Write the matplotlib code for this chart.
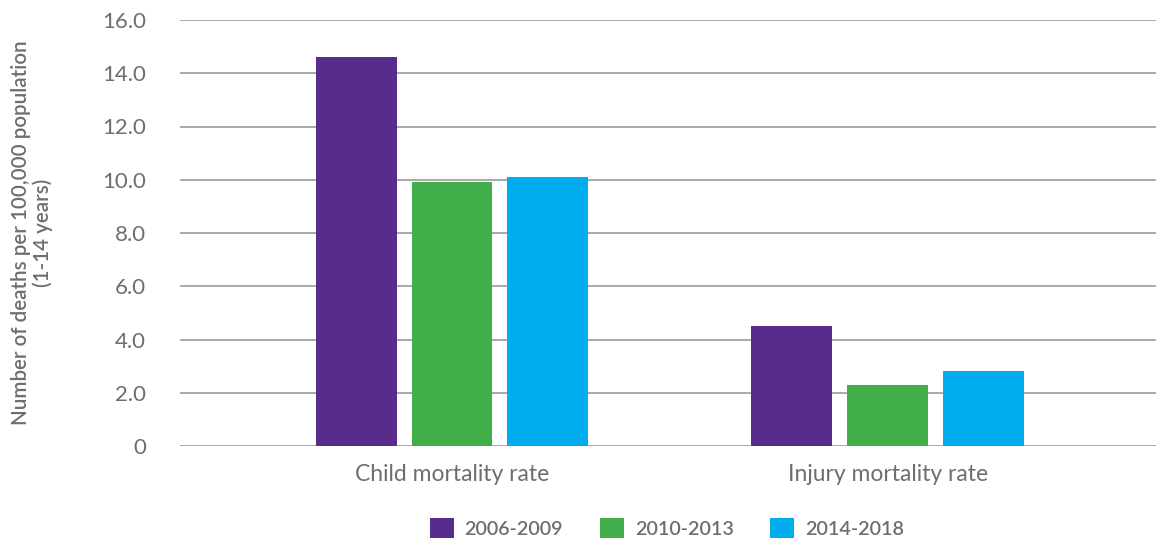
import matplotlib
matplotlib.use("Agg")
import matplotlib.pyplot as plt
import numpy as np
from matplotlib.patches import Patch

categories = ["Child mortality rate", "Injury mortality rate"]
series_names = ["2006-2009", "2010-2013", "2014-2018"]
values_2006_2009 = [14.6, 4.5]
values_2010_2013 = [9.9, 2.3]
values_2014_2018 = [10.1, 2.8]
yticks = [0, 2, 4, 6, 8, 10, 12, 14, 16]
ytick_labels = ["0", "2.0", "4.0", "6.0", "8.0", "10.0", "12.0", "14.0", "16.0"]
colors = ["#582c8b", "#40ae49", "#00aeef"]

plt.rcParams['font.family'] = ['Lato', 'DejaVu Sans']
text_color = "#6d6e71"

fig = plt.figure(figsize=(11.56, 5.41), dpi=100)
ax = fig.add_axes([180/1156, 1-446/541, 1-180/1156, (446-20)/541])

x = np.arange(len(categories))
width = 81/436
pitch = 96/436
series = [values_2006_2009, values_2010_2013, values_2014_2018]
for i, (vals, c) in enumerate(zip(series, colors)):
    ax.bar(x + (i-1)*pitch, vals, width=width, color=c, zorder=3)

ax.set_xlim(-0.624, 1.615)
ax.set_ylim(0, 16)
ax.set_yticks(yticks)
ax.set_yticklabels(ytick_labels)
ax.set_xticks(x)
ax.set_xticklabels(categories)
ax.yaxis.grid(True, color="#a7a9ac", linewidth=1.4, zorder=0)
ax.set_axisbelow(True)
for s in ax.spines.values():
    s.set_visible(False)
ax.tick_params(axis='y', length=0, pad=24.5, labelsize=16, labelcolor=text_color)
ax.tick_params(axis='x', length=0, pad=13, labelsize=16.5, labelcolor=text_color)

fig.text(32/1156, 1-233/541,
         "Number of deaths per 100,000 population\n(1-14 years)",
         rotation=90, ha='center', va='center', multialignment='center',
         fontsize=14.8, color=text_color, fontweight='semibold', linespacing=1.05)

handles = [Patch(facecolor=c, edgecolor='none') for c in colors]
leg = fig.legend(handles, series_names, loc='center', bbox_to_anchor=(0.577, 0.024),
                 ncol=3, frameon=False, handlelength=1.2, handleheight=1.2,
                 columnspacing=1.87, handletextpad=0.56,
                 prop={'size': 14.2, 'weight': 'semibold'})
for t in leg.get_texts():
    t.set_color(text_color)

fig.savefig("out.png", dpi=100)
